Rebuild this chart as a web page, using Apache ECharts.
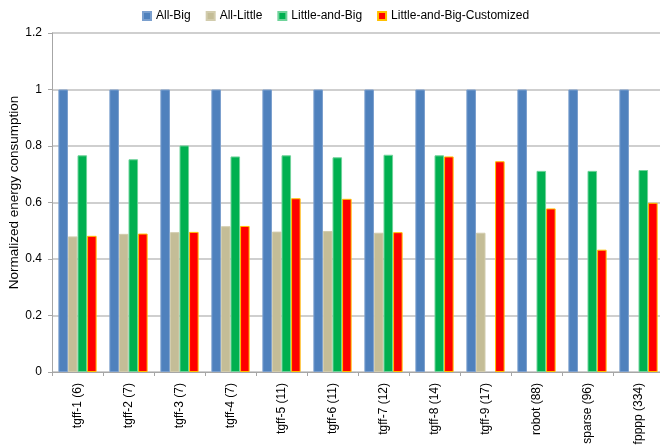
<!DOCTYPE html>
<html>
<head>
<meta charset="utf-8">
<script src="https://cdn.jsdelivr.net/npm/echarts@6/dist/echarts.min.js"></script>
<style>
  html, body { margin: 0; padding: 0; background: #fff; }
  #chart { width: 660px; height: 448px; }
</style>
</head>
<body>
<div id="chart"></div>
<script>
// Benchmarks (task count in parentheses)
var categories = ['tgff-1 (6)', 'tgff-2 (7)', 'tgff-3 (7)', 'tgff-4 (7)', 'tgff-5 (11)', 'tgff-6 (11)',
                  'tgff-7 (12)', 'tgff-8 (14)', 'tgff-9 (17)', 'robot (88)', 'sparse (96)', 'fpppp (334)'];

// Normalized energy consumption per configuration (null = no result)
var allBig       = [1, 1, 1, 1, 1, 1, 1, 1, 1, 1, 1, 1];
var allLittle    = [0.480, 0.489, 0.495, 0.516, 0.497, 0.499, 0.493, null, 0.493, null, null, null];
var littleAndBig = [0.767, 0.753, 0.802, 0.763, 0.767, 0.760, 0.769, 0.767, null, 0.712, 0.712, 0.715];
var customized   = [0.482, 0.490, 0.496, 0.517, 0.615, 0.613, 0.495, 0.763, 0.746, 0.579, 0.433, 0.599];

var yTicks = { min: 0, max: 1.2, interval: 0.2 };

var font = 'Liberation Sans';
var chart = echarts.init(document.getElementById('chart'));

function barSeries(name, data, color, border) {
  return {
    name: name,
    type: 'bar',
    data: data,
    barGap: '0%',
    barCategoryGap: '25%',
    itemStyle: { color: color, borderColor: border, borderWidth: 1 }
  };
}

chart.setOption({
  animation: false,
  textStyle: { fontFamily: font },
  legend: {
    top: 5,
    left: 137,
    itemWidth: 8,
    itemHeight: 8,
    itemGap: 15,
    icon: 'rect',
    textStyle: { fontFamily: font, fontSize: 12, color: '#000' }
  },
  grid: { left: 52, right: -4, top: 33, bottom: 76, outerBoundsMode: 'none', containLabel: false },
  xAxis: {
    type: 'category',
    data: categories,
    axisLine: { lineStyle: { color: '#A6A6A6', width: 1 } },
    axisTick: { show: true, length: 4, alignWithLabel: false, lineStyle: { color: '#A6A6A6' } },
    axisLabel: { rotate: 90, margin: 11, fontSize: 12, color: '#000', fontFamily: font, interval: 0 }
  },
  yAxis: {
    type: 'value',
    min: yTicks.min,
    max: yTicks.max,
    interval: yTicks.interval,
    name: 'Normalized energy consumption',
    nameLocation: 'middle',
    nameGap: 31,
    nameMoveOverlap: false,
    nameTextStyle: { fontSize: 13.5, color: '#000', fontFamily: font, padding: [0, 0, 0, 20] },
    axisLine: { show: true, lineStyle: { color: '#A6A6A6', width: 1 } },
    axisTick: { show: true, length: 4, lineStyle: { color: '#A6A6A6' } },
    axisLabel: { margin: 10, fontSize: 12, color: '#000', fontFamily: font,
                 formatter: function (v) { return String(Math.round(v * 10) / 10); } },
    splitLine: { lineStyle: { color: '#BFBFBF', width: 1.5 } }
  },
  series: [
    barSeries('All-Big', allBig, '#4F81BD', '#7A9FCE'),
    barSeries('All-Little', allLittle, '#C4BD97', '#D2CCAD'),
    barSeries('Little-and-Big', littleAndBig, '#00B050', '#6FD39A'),
    barSeries('Little-and-Big-Customized', customized, '#FF0000', '#FFC000')
  ]
});
</script>
</body>
</html>
